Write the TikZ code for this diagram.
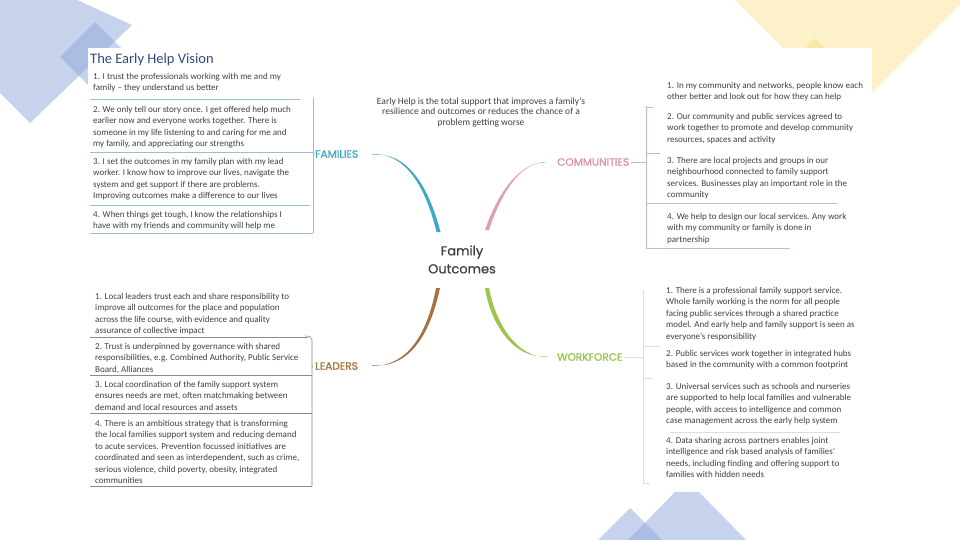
\documentclass[tikz,border=0pt]{standalone}
\usepackage{fontspec}
\setmainfont{Carlito}
\newfontfamily\popfont{Poppins}[FakeBold=0.6]
\newfontfamily\poplab{Poppins}[FakeBold=1.3]
\definecolor{decoblue}{HTML}{8FA8D9}
\definecolor{decoyel}{HTML}{FBE08A}
\definecolor{txt}{HTML}{404040}
\definecolor{titlec}{HTML}{2F4B7C}
\definecolor{famc}{HTML}{3FA8C8}
\definecolor{comc}{HTML}{DE959F}
\definecolor{leadc}{HTML}{A5733F}
\definecolor{workc}{HTML}{9CC451}
\definecolor{famsep}{HTML}{9DBFCB}
\definecolor{comsep}{HTML}{CDB5BA}
\definecolor{leadsep}{HTML}{8A8A8A}
\definecolor{worksep}{HTML}{DDDDDD}
\tikzset{
  body/.style={anchor=north west, inner sep=0pt, align=left, text=txt,
    font=\fontsize{9}{11.4}\selectfont},
  lab/.style={anchor=west, inner sep=0pt, font=\poplab\fontsize{10.6}{12}\selectfont},
  sepline/.style={line width=0.6pt},
  brk/.style={line width=0.6pt},
  deco/.style={opacity=0.5}
}
\begin{document}
\begin{tikzpicture}[x=1pt,y=-1pt]
\useasboundingbox (0,0) rectangle (960,540);
% background decorations
\fill[decoblue,deco] (77,0) -- (132,25) -- (30,123) -- (0,93) -- (0,0) -- cycle;
\fill[decoblue,deco] (95,22) -- (130,57) -- (95,92) -- (60,57) -- cycle;
\fill[decoblue,deco] (677,490) -- (697,490) -- (747,541) -- (627,541) -- cycle;
\fill[decoblue,deco] (630,508) -- (663,541) -- (597,541) -- cycle;
\fill[decoyel,opacity=0.45] (735,0) -- (850,115) -- (965,0) -- cycle;
\fill[decoyel,opacity=0.6] (815,38) -- (837,60) -- (815,82) -- (793,60) -- cycle;
% panel
\fill[white] (88,48) rectangle (872,492);

% title and definition
\node[anchor=west, inner sep=0pt, text=titlec, font=\fontsize{14.5}{16}\selectfont] (title) at (90,60) {The Early Help Vision};
\node[anchor=north, inner sep=0pt, align=center, text=txt, font=\fontsize{9.5}{10.6}\selectfont] (def) at (481,97.5)
 {Early Help is the total support that improves a family’s\\resilience and outcomes or reduces the chance of a\\problem getting worse};

% centre
\node[inner sep=0pt, align=center, text=txt, font=\popfont\fontsize{13}{18}\selectfont] (centre) at (462,259.5) {Family\\Outcomes};

% labels
\node[lab, text=famc] (fam) at (315,154) {FAMILIES};
\node[lab, text=comc] (com) at (557,162) {COMMUNITIES};
\node[lab, text=leadc] (lead) at (315,366) {LEADERS};
\node[lab, text=workc] (work) at (557,357) {WORKFORCE};

% tapered branches
\coordinate (famS) at ([xshift=14pt]fam.east);   \coordinate (famE) at (438.5,232);
\coordinate (comS) at ([xshift=-12pt]com.west);  \coordinate (comE) at (487,230);
\coordinate (leadS) at ([xshift=14pt]lead.east); \coordinate (leadE) at (438,288);
\coordinate (workS) at ([xshift=-10pt]work.west);\coordinate (workE) at (487,288);
\fill[famc] (famS) .. controls (405,153) and (425,185) .. ([xshift=-2pt]famE) -- ([xshift=2pt]famE) .. controls (428,184) and (406,151.5) .. ([yshift=-0.7pt]famS) -- cycle;
\fill[comc!90!white] (comS) .. controls (518,163) and (497,195) .. ([xshift=-2pt]comE) -- ([xshift=2pt]comE) .. controls (500,196) and (520,161.5) .. ([yshift=-0.7pt]comS) -- cycle;
\fill[leadc] (leadS) .. controls (410,366) and (428,330) .. ([xshift=-2pt]leadE) -- ([xshift=2pt]leadE) .. controls (431,330) and (412,368.5) .. ([yshift=0.7pt]leadS) -- cycle;
\fill[workc] (workS) .. controls (518,358) and (496,325) .. ([xshift=2pt]workE) -- ([xshift=-2pt]workE) .. controls (491,326) and (515,359.5) .. ([yshift=0.7pt]workS) -- cycle;

% FAMILIES block
\node[body] (f1) at (93,73) {1. I trust the professionals working with me and my\\family – they understand us better};
\node[body] (f2) at (93,106) {2. We only tell our story once. I get offered help much\\earlier now and everyone works together. There is\\someone in my life listening to and caring for me and\\my family, and appreciating our strengths};
\node[body] (f3) at (93,158) {3. I set the outcomes in my family plan with my lead\\worker. I know how to improve our lives, navigate the\\system and get support if there are problems.\\Improving outcomes make a difference to our lives};
\node[body] (f4) at (93,211) {4. When things get tough, I know the relationships I\\have with my friends and community will help me};
\draw[famsep, sepline] (90,99) -- (300,99);
\draw[famsep, sepline] (90,152) -- (313,152);
\draw[famsep, sepline] (90,205) -- (310,205);
\draw[famsep, sepline] (90,233) -- (313,233);
\draw[famsep, brk] (313,98) -- (313,233);
\draw[famsep, brk] (313,152) -- (fam.west);

% COMMUNITIES block
\node[body] (c1) at (667,82) {1. In my community and networks, people know each\\other better and look out for how they can help};
\node[body] (c2) at (667,113) {2. Our community and public services agreed to\\work together to promote and develop community\\resources, spaces and activity};
\node[body] (c3) at (667,157) {3. There are local projects and groups in our\\neighbourhood connected to family support\\services. Businesses play an important role in the\\community};
\node[body] (c4) at (667,213) {4. We help to design our local services. Any work\\with my community or family is done in\\partnership};
\draw[comsep, sepline] (646,107) -- (653,107);
\draw[comsep, sepline] (646,153) -- (660,153);
\draw[comsep, sepline] (646,203) -- (837,203);
\draw[comsep, sepline] (646,248) -- (790,248);
\draw[comsep, brk] (646,106) -- (646,248);
\draw[comsep, brk] (com.east) ++(2,0) -- (646,162);

% LEADERS block
\node[body] (l1) at (95,293) {1. Local leaders trust each and share responsibility to\\improve all outcomes for the place and population\\across the life course, with evidence and quality\\assurance of collective impact};
\node[body] (l2) at (95,343) {2. Trust is underpinned by governance with shared\\responsibilities, e.g. Combined Authority, Public Service\\Board, Alliances};
\node[body] (l3) at (95,381) {3. Local coordination of the family support system\\ensures needs are met, often matchmaking between\\demand and local resources and assets};
\node[body] (l4) at (95,420) {4. There is an ambitious strategy that is transforming\\the local families support system and reducing demand\\to acute services. Prevention focussed initiatives are\\coordinated and seen as interdependent, such as crime,\\serious violence, child poverty, obesity, integrated\\communities};
\draw[leadsep, sepline] (90,337) -- (308,337);
\draw[leadsep, sepline] (90,375) -- (312,375);
\draw[leadsep, sepline] (90,413) -- (312,413);
\draw[leadsep, sepline] (90,486) -- (312,486);
\draw[leadsep, brk] (305,336) .. controls (310,336) and (312,337) .. (312,340) -- (312,486);
\draw[leadsep, brk] (lead.west) ++(-2,0) -- (312,366);

% WORKFORCE block
\node[body] (w1) at (666,287) {1. There is a professional family support service.\\Whole family working is the norm for all people\\facing public services through a shared practice\\model. And early help and family support is seen as\\everyone’s responsibility};
\node[body] (w2) at (666,350) {2. Public services work together in integrated hubs\\based in the community with a common footprint};
\node[body] (w3) at (666,383) {3. Universal services such as schools and nurseries\\are supported to help local families and vulnerable\\people, with access to intelligence and common\\case management across the early help system};
\node[body] (w4) at (666,437) {4. Data sharing across partners enables joint\\intelligence and risk based analysis of families’\\needs, including finding and offering support to\\families with hidden needs};
\draw[worksep, sepline] (643,346) -- (660,346);
\draw[worksep, sepline] (643,378) -- (653,378);
\draw[worksep, sepline] (670,432) -- (840,432);
\draw[worksep, sepline] (643,483) -- (650,483);
\draw[worksep, brk] (643,290) -- (643,483);
\draw[worksep, brk] (work.east) ++(2,0) -- (643,357);
\end{tikzpicture}
\end{document}
